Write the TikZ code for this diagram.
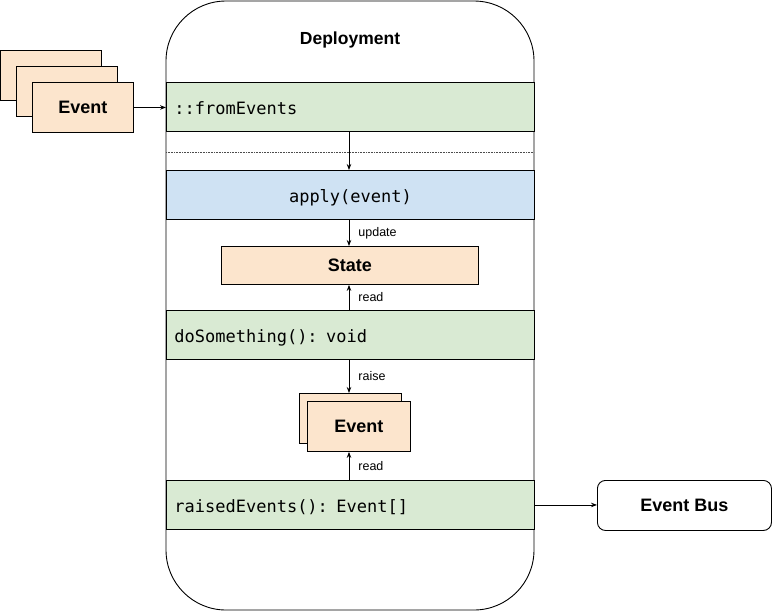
\documentclass[tikz,border=0pt]{standalone}
\usepackage{fontspec}
\setmainfont{Liberation Sans}
\setmonofont{DejaVu Sans Mono}
\usetikzlibrary{arrows.meta}
\definecolor{bandgreen}{HTML}{D9EAD3}
\definecolor{bandblue}{HTML}{CFE2F3}
\definecolor{peach}{HTML}{FCE5CD}
\tikzset{
  outline/.style={draw=black, line width=0.9pt},
  pbox/.style={outline, fill=peach, inner sep=0pt, font=\fontsize{18}{22}\selectfont\bfseries},
  band/.style={outline, inner xsep=8pt, inner ysep=0pt, minimum width=368, minimum height=49,
     text width=352, text height=15pt, text depth=0pt, font=\fontsize{17}{20}\selectfont\ttfamily},
  arr/.style={line width=0.8pt, -{Stealth[length=6pt,width=4.5pt]}},
  lbl/.style={font=\fontsize{12.5}{14}\selectfont, inner sep=0pt, anchor=west, xshift=9pt}
}
\begin{document}
\begin{tikzpicture}[x=1pt,y=-1pt]
\useasboundingbox (0,0) rectangle (774,614);
% deployment container
\draw[outline, rounded corners=60] (166,1) rectangle (534,610);
\node[font=\fontsize{17.5}{21}\selectfont\bfseries] (title) at (350,40) {Deployment};
% bands
\node[band, fill=bandgreen, align=left, anchor=north west] (from) at (166,82) {::fromEvents};
\draw[densely dotted, draw=black!70, line width=0.6pt] (166,152) -- (534,152);
\node[band, fill=bandblue, align=center, anchor=north west] (apply) at (166,170) {apply(event)};
\node[pbox, minimum width=257, minimum height=38, anchor=north west] (state) at (221,246) {State};
\node[band, fill=bandgreen, align=left, anchor=north west] (dosth) at (166,310) {doSomething(): void};
\node[pbox, minimum width=102, minimum height=50, anchor=north west] (ev2a) at (299,393) {};
\node[pbox, minimum width=103, minimum height=50, anchor=north west] (ev2) at (307,401) {Event};
\node[band, fill=bandgreen, align=left, anchor=north west] (raised) at (166,480) {raisedEvents(): Event[]};
% left event stack
\node[pbox, minimum width=101, minimum height=50, anchor=north west] (e1) at (0,50) {};
\node[pbox, minimum width=101, minimum height=50, anchor=north west] (e2) at (16,66) {};
\node[pbox, minimum width=101, minimum height=50, anchor=north west] (e3) at (32,82) {Event};
% event bus
\node[outline, rounded corners=8, minimum width=174, minimum height=50, anchor=north west,
      font=\fontsize{18}{22}\selectfont\bfseries] (bus) at (597,480) {Event Bus};
% connectors
\coordinate (cx) at (349,0);
\draw[arr] (e3.east) -- (e3.east -| from.west);
\draw[arr] (from.south -| cx) -- (apply.north -| cx);
\draw[arr] (apply.south -| cx) -- node[lbl] {update} (state.north -| cx);
\draw[arr] (dosth.north -| cx) -- node[lbl] {read} (state.south -| cx);
\draw[arr] (dosth.south -| cx) -- node[lbl] {raise} (ev2a.north -| cx);
\draw[arr] (raised.north -| cx) -- node[lbl] {read} (ev2.south -| cx);
\draw[arr] (raised.east) -- (raised.east -| bus.west);
\end{tikzpicture}
\end{document}
